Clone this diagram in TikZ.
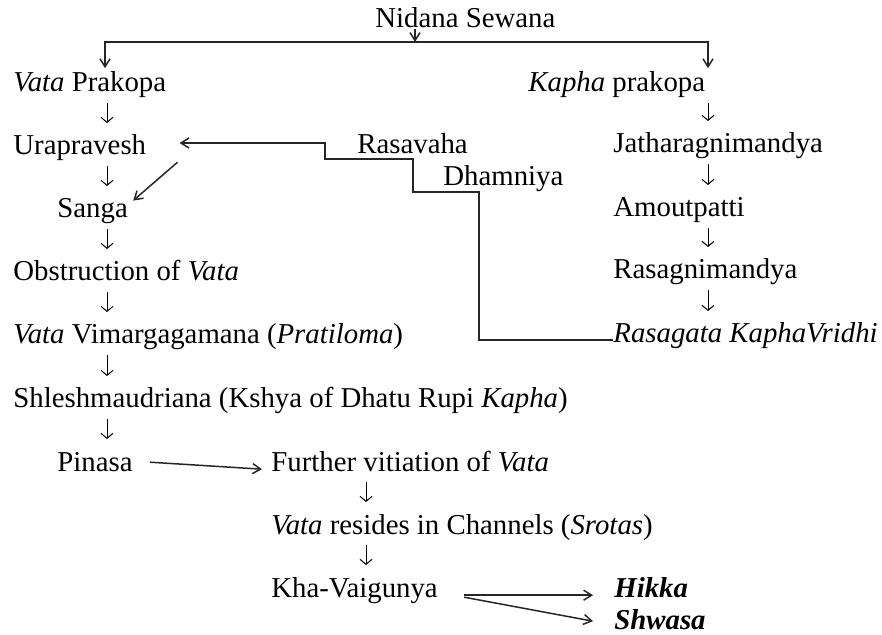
\documentclass[tikz,border=0pt]{standalone}
\usepackage{fontspec}
\setmainfont{Liberation Serif}
\usepackage{tikz}
\usetikzlibrary{arrows.meta,calc}
\newcommand{\rowfont}{\fontsize{14.4pt}{17pt}\selectfont}

\begin{document}
\begin{tikzpicture}[
    x=0.5pt,y=-0.5pt,
    txt/.style={anchor=base west,inner sep=0pt,font=\rowfont,
                text height=0.7em,text depth=0.22em},
    con/.style={draw=black!85,line width=0.75pt},
    link/.style={con,-{Straight Barb[length=4pt,width=5pt]}},
    dnarrow/.style={line width=0.5pt,-{Straight Barb[length=2.5pt,width=6pt]},
                shorten <=5.5pt,shorten >=16pt}]
    \useasboundingbox (0,0) rectangle (882,635);
    \node[txt] (nid) at (375,28)  {Nidana Sewana};
    \node[txt] (vp)  at (13,92)   {\textit{Vata} Prakopa};
    \node[txt] (kp)  at (528,92)  {\textit{Kapha} prakopa};
    \node[txt] (ur)  at (13,155)  {Urapravesh};
    \node[txt] (ras) at (357,154) {Rasavaha};
    \node[txt] (dha) at (443,186) {Dhamniya};
    \node[txt] (sg)  at (57,218)  {Sanga};
    \node[txt] (ob)  at (13,281)  {Obstruction of \textit{Vata}};
    \node[txt] (vv)  at (13,344)  {\textit{Vata} Vimargagamana (\textit{Pratiloma})};
    \node[txt] (sh)  at (13,408)  {Shleshmaudriana (Kshya of Dhatu Rupi \textit{Kapha})};
    \node[txt] (pin) at (57,471)  {Pinasa};
    \node[txt] (fv)  at (271,471) {Further vitiation of \textit{Vata}};
    \node[txt] (vr)  at (271,534) {\textit{Vata} resides in Channels (\textit{Srotas})};
    \node[txt] (kha) at (271,597) {Kha-Vaigunya};
    \node[txt] (hik) at (614,597) {\textbf{\textit{Hikka}}};
    \node[txt] (shw) at (614,629) {\textbf{\textit{Shwasa}}};
    \node[txt] (jat) at (613,153) {Jatharagnimandya};
    \node[txt] (amo) at (613,217) {Amoutpatti};
    \node[txt] (rgm) at (613,279) {Rasagnimandya};
    \node[txt] (rkv) at (613,343) {\textit{Rasagata KaphaVridhi}};
    \coordinate (lx) at (107,0);
    \coordinate (cx) at (366,0);
    \coordinate (rx) at (708,0);
    \coordinate (bl) at (105,42);
    \coordinate (bm) at (415,42);
    \coordinate (br) at (708,42);
    \coordinate (k1) at (479,192);
    \coordinate (k2) at (413,159);
    \coordinate (k3) at (325,143);
    \draw[link,shorten <=-2pt] (nid.south -| bm) -- (bm);
    \draw[con,{Straight Barb[length=4pt,width=5pt]}-{Straight Barb[length=4pt,width=5pt]},
          shorten <=4.7pt,shorten >=4.7pt]
      (vp.north -| bl) -- (bl) -- (br) -- (kp.north -| br);
    \draw[dnarrow] (vp.base -| lx) -- (ur.base -| lx);
    \draw[dnarrow] (ur.base -| lx) -- (sg.base -| lx);
    \draw[dnarrow] (sg.base -| lx) -- (ob.base -| lx);
    \draw[dnarrow] (ob.base -| lx) -- (vv.base -| lx);
    \draw[dnarrow] (vv.base -| lx) -- (sh.base -| lx);
    \draw[dnarrow] (sh.base -| lx) -- (pin.base -| lx);
    \draw[dnarrow] (fv.base -| cx) -- (vr.base -| cx);
    \draw[dnarrow] (vr.base -| cx) -- (kha.base -| cx);
    \draw[dnarrow] (kp.base -| rx) -- (jat.base -| rx);
    \draw[dnarrow] (jat.base -| rx) -- (amo.base -| rx);
    \draw[dnarrow] (amo.base -| rx) -- (rgm.base -| rx);
    \draw[dnarrow] (rgm.base -| rx) -- (rkv.base -| rx);
    \draw[link,shorten >=16.5pt] ($(rkv.base west)+(0,-3)$) -| (k1) -| (k2) -| (k3)
      -- (ur.east |- k3);
    \draw[link] ($(ur.east)+(31,12)$) -- ($(sg.north east)+(5,-3)$);
    \draw[link] ($(pin.east)+(17,-4)$) -- ($(fv.west)+(-9,3)$);
    \draw[link] ($(kha.east)+(26,3)$) -- ($(hik.west)+(-21,3)$);
    \draw[link] ($(kha.east)+(26,5)$) -- ($(shw.west)+(-21,-3)$);
  \end{tikzpicture}
\end{document}
